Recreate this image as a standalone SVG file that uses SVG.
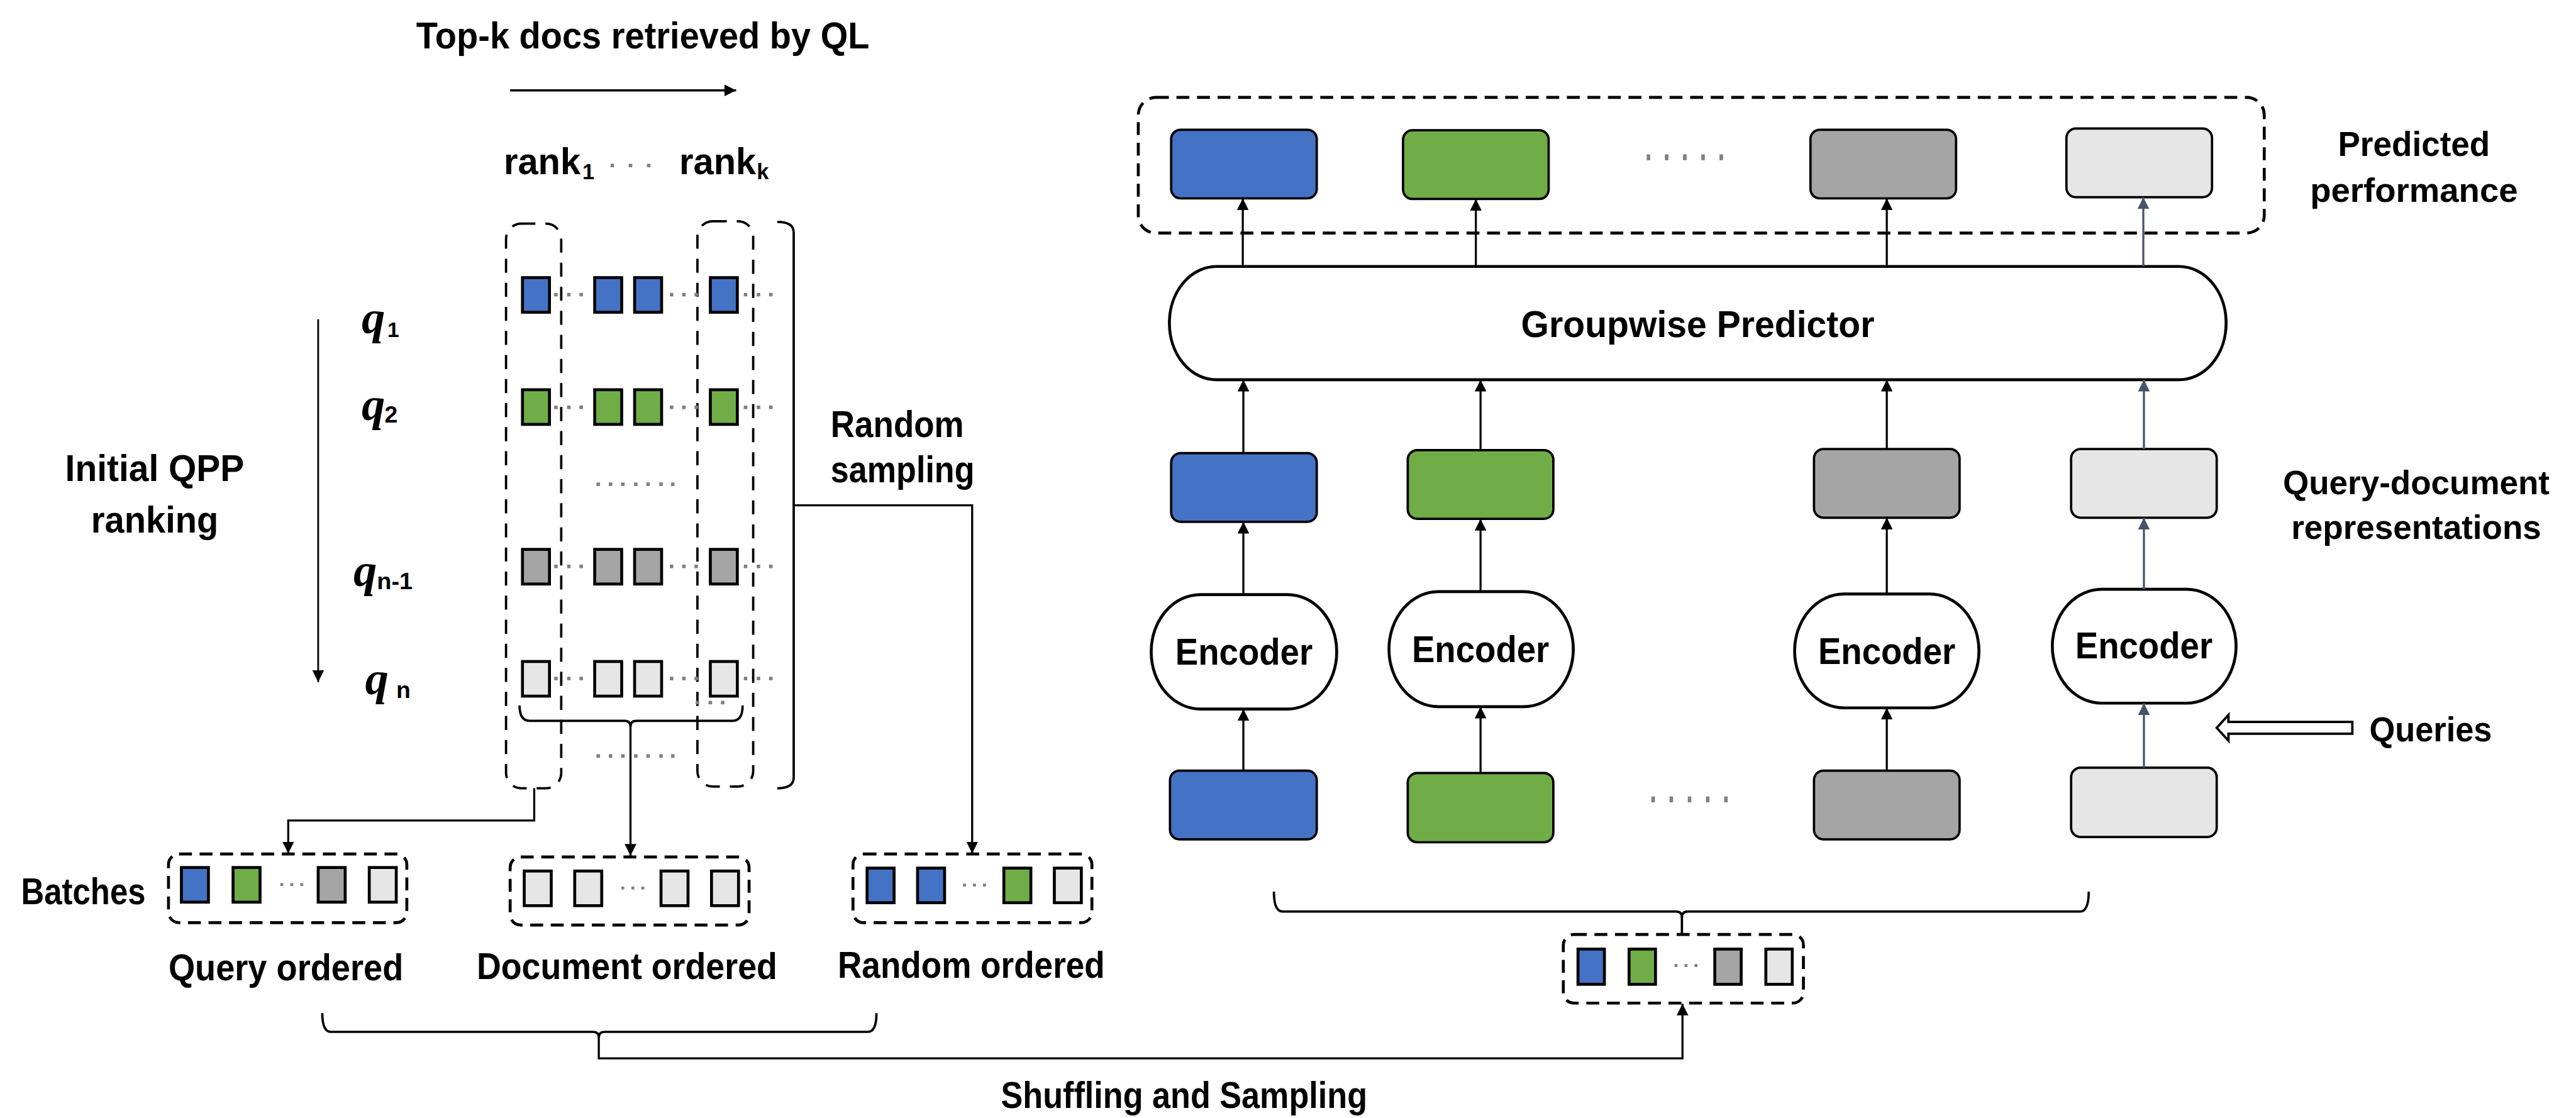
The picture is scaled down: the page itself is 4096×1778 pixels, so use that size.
<svg xmlns="http://www.w3.org/2000/svg" xmlns:xlink="http://www.w3.org/1999/xlink" width="4096" height="1778" viewBox="0 0 4096 1778">
<style>
.t{font-family:"Liberation Sans",Arial,sans-serif;font-weight:bold;font-size:64px;fill:#000}
.q{font-family:"Liberation Serif","Times New Roman",serif;font-style:italic;font-weight:bold;font-size:80px;fill:#000}
.sub{font-family:"Liberation Sans",Arial,sans-serif;font-weight:bold;font-size:40px;fill:#000}
.blue{fill:#4472C4}.green{fill:#70AD47}.gray{fill:#A5A5A5}.light{fill:#E7E6E6}
.sq{stroke:#000;stroke-width:5}
.box{stroke:#000;stroke-width:4}
.shape{fill:#fff;stroke:#000;stroke-width:5}
.dbox{fill:none;stroke:#000;stroke-width:5;stroke-dasharray:22 13}
.dcol{fill:none;stroke:#000;stroke-width:4;stroke-dasharray:24 17}
.ln{fill:none;stroke:#000;stroke-width:4}
.ar{fill:none;stroke:#000;stroke-width:3.5;marker-end:url(#ah)}
.ars{fill:none;stroke:#44546A;stroke-width:3.5;marker-end:url(#ahs)}
.dot{fill:#808080}
</style>
<defs>
<marker id="ah" viewBox="0 0 20 20" refX="20" refY="10" markerWidth="20" markerHeight="20" markerUnits="userSpaceOnUse" orient="auto"><path d="M0,0 L20,10 L0,20 z" fill="#000"/></marker>
<marker id="ahs" viewBox="0 0 20 20" refX="20" refY="10" markerWidth="20" markerHeight="20" markerUnits="userSpaceOnUse" orient="auto"><path d="M0,0 L20,10 L0,20 z" fill="#44546A"/></marker>
<g id="rowdots">
<rect class="dot" x="944" y="-3" width="6" height="6"/><rect class="dot" x="966" y="-3" width="6" height="6"/><rect class="dot" x="987" y="-3" width="6" height="6"/>
<rect class="dot" x="1141" y="-3" width="6" height="6"/><rect class="dot" x="1162" y="-3" width="6" height="6"/><rect class="dot" x="1183" y="-3" width="6" height="6"/>
<rect class="dot" x="1267" y="-3" width="6" height="6"/><rect class="dot" x="1289" y="-3" width="6" height="6"/><rect class="dot" x="1310" y="-3" width="6" height="6"/>
</g>
<g id="vdots">
<rect class="dot" x="1016" y="-3" width="6" height="6"/><rect class="dot" x="1037" y="-3" width="6" height="6"/><rect class="dot" x="1058" y="-3" width="6" height="6"/><rect class="dot" x="1080" y="-3" width="6" height="6"/><rect class="dot" x="1101" y="-3" width="6" height="6"/><rect class="dot" x="1123" y="-3" width="6" height="6"/><rect class="dot" x="1143" y="-3" width="6" height="6"/>
</g>
<g id="bigdots">
<rect class="dot" x="0" y="-5" width="6" height="10"/><rect class="dot" x="31" y="-5" width="6" height="10"/><rect class="dot" x="62" y="-5" width="6" height="10"/><rect class="dot" x="93" y="-5" width="6" height="10"/><rect class="dot" x="124" y="-5" width="6" height="10"/>
</g>
<g id="sdots">
<rect class="dot" x="-2.5" y="-2.5" width="5" height="5"/><rect class="dot" x="14.5" y="-2.5" width="5" height="5"/><rect class="dot" x="31.5" y="-2.5" width="5" height="5"/>
</g>
</defs>
<rect x="0" y="0" width="4096" height="1778" fill="#fff"/>
<g transform="scale(0.93345)">

<g id="title">
<text class="t" x="709" y="83" textLength="772" lengthAdjust="spacingAndGlyphs">Top-k docs retrieved by QL</text>
</g>
<g id="rank-labels">
<text class="t" x="858" y="297" textLength="131" lengthAdjust="spacingAndGlyphs">rank</text>
<text class="sub" x="992" y="305" style="font-size:37px">1</text>
<rect class="dot" x="1040" y="279" width="6" height="6"/><rect class="dot" x="1071" y="279" width="6" height="6"/><rect class="dot" x="1102" y="279" width="6" height="6"/>
<text class="t" x="1157" y="297" textLength="131" lengthAdjust="spacingAndGlyphs">rank</text>
<text class="sub" x="1289" y="305" style="font-size:37px">k</text>
</g>
<g id="query-labels">
<text class="t" x="111" y="820" textLength="305" lengthAdjust="spacingAndGlyphs">Initial QPP</text>
<text class="t" x="155" y="907" textLength="217" lengthAdjust="spacingAndGlyphs">ranking</text>
<text class="q" x="616" y="568">q</text><text class="sub" x="660" y="574" style="font-size:36px">1</text>
<text class="q" x="616" y="716">q</text><text class="sub" x="655" y="720">2</text>
<text class="q" x="602" y="998">q</text><text class="sub" x="642" y="1004" textLength="61" lengthAdjust="spacingAndGlyphs">n-1</text>
<text class="q" x="622" y="1183">q</text><text class="sub" x="675" y="1189">n</text>
</g>

<g id="matrix">
<rect id="col-first" class="dcol" x="862" y="381" width="94" height="962" rx="26"/>
<rect id="col-last" class="dcol" x="1188" y="377" width="95" height="963" rx="26"/>
<g id="row-q1">
<rect class="blue sq" x="890" y="473" width="46" height="59"/><rect class="blue sq" x="1013" y="473" width="46" height="59"/><rect class="blue sq" x="1081" y="473" width="46" height="59"/><rect class="blue sq" x="1210" y="473" width="46" height="59"/>
<use xlink:href="#rowdots" y="502"/>
</g>
<g id="row-q2">
<rect class="green sq" x="890" y="664" width="46" height="59"/><rect class="green sq" x="1013" y="664" width="46" height="59"/><rect class="green sq" x="1081" y="664" width="46" height="59"/><rect class="green sq" x="1210" y="664" width="46" height="59"/>
<use xlink:href="#rowdots" y="694"/>
</g>
<use xlink:href="#vdots" y="825"/>
<g id="row-qn1">
<rect class="gray sq" x="890" y="936" width="46" height="59"/><rect class="gray sq" x="1013" y="936" width="46" height="59"/><rect class="gray sq" x="1081" y="936" width="46" height="59"/><rect class="gray sq" x="1210" y="936" width="46" height="59"/>
<use xlink:href="#rowdots" y="965"/>
</g>
<g id="row-qn">
<rect class="light sq" x="890" y="1127" width="46" height="59"/><rect class="light sq" x="1013" y="1127" width="46" height="59"/><rect class="light sq" x="1081" y="1127" width="46" height="59"/><rect class="light sq" x="1210" y="1127" width="46" height="59"/>
<use xlink:href="#rowdots" y="1156"/>
<rect class="dot" x="1185" y="1194" width="6" height="6"/><rect class="dot" x="1207" y="1194" width="6" height="6"/><rect class="dot" x="1228" y="1194" width="6" height="6"/>
</g>
<use xlink:href="#vdots" y="1288"/>
</g>

<g id="random-sampling-label">
<text class="t" x="1415" y="745" textLength="227" lengthAdjust="spacingAndGlyphs">Random</text>
<text class="t" x="1415" y="822" textLength="245" lengthAdjust="spacingAndGlyphs">sampling</text>
</g>

<g id="batch-query">
<text class="t" x="36" y="1540" textLength="212" lengthAdjust="spacingAndGlyphs">Batches</text>
<rect class="dbox" x="287" y="1455" width="406" height="117" rx="18"/>
<rect class="blue sq" x="309" y="1478" width="46" height="59"/><rect class="green sq" x="397" y="1478" width="46" height="59"/><rect class="gray sq" x="542" y="1478" width="46" height="59"/><rect class="light sq" x="629" y="1478" width="46" height="59"/>
<use xlink:href="#sdots" x="480" y="1507"/>
<text class="t" x="287" y="1670" textLength="400" lengthAdjust="spacingAndGlyphs">Query ordered</text>
</g>
<g id="batch-document">
<rect class="dbox" x="869" y="1460" width="407" height="116" rx="18"/>
<rect class="light sq" x="893" y="1484" width="46" height="59"/><rect class="light sq" x="979" y="1484" width="46" height="59"/><rect class="light sq" x="1126" y="1484" width="46" height="59"/><rect class="light sq" x="1212" y="1484" width="46" height="59"/>
<use xlink:href="#sdots" x="1061" y="1513"/>
<text class="t" x="812" y="1668" textLength="512" lengthAdjust="spacingAndGlyphs">Document ordered</text>
</g>
<g id="batch-random">
<rect class="dbox" x="1453" y="1455" width="407" height="117" rx="18"/>
<rect class="blue sq" x="1477" y="1479" width="46" height="59"/><rect class="blue sq" x="1563" y="1479" width="46" height="59"/><rect class="green sq" x="1710" y="1479" width="46" height="59"/><rect class="light sq" x="1796" y="1479" width="46" height="59"/>
<use xlink:href="#sdots" x="1643" y="1508"/>
<text class="t" x="1427" y="1666" textLength="455" lengthAdjust="spacingAndGlyphs">Random ordered</text>
</g>
<g id="batch-mixed">
<rect class="dbox" x="2663" y="1592" width="409" height="117" rx="18"/>
<rect class="blue sq" x="2688" y="1617" width="45" height="60"/><rect class="green sq" x="2775" y="1617" width="45" height="60"/><rect class="gray sq" x="2921" y="1617" width="45" height="60"/><rect class="light sq" x="3008" y="1617" width="45" height="60"/>
<use xlink:href="#sdots" x="2855" y="1645"/>
</g>
<g id="shuffle-label">
<text class="t" x="1705" y="1888" textLength="624" lengthAdjust="spacingAndGlyphs">Shuffling and Sampling</text>
</g>

<g id="predicted">
<rect class="dbox" x="1939" y="166" width="1918" height="231" rx="30"/>
<rect class="blue box" x="1995" y="221" width="248" height="117" rx="16"/>
<rect class="green box" x="2390" y="222" width="248" height="117" rx="16"/>
<use xlink:href="#bigdots" x="2805" y="268"/>
<rect class="gray box" x="3084" y="221" width="248" height="117" rx="16"/>
<rect class="light box" x="3520" y="219" width="248" height="117" rx="16"/>
<text class="t" x="4112" y="266" text-anchor="middle" style="font-size:60px" textLength="259" lengthAdjust="spacingAndGlyphs">Predicted</text>
<text class="t" x="4112" y="344" text-anchor="middle" style="font-size:58px" textLength="354" lengthAdjust="spacingAndGlyphs">performance</text>
</g>
<g id="groupwise-predictor">
<rect class="shape" x="1992" y="454" width="1800" height="193" rx="80" ry="96"/>
<text class="t" x="2591" y="574" textLength="602" lengthAdjust="spacingAndGlyphs">Groupwise Predictor</text>
</g>
<g id="representations">
<rect class="blue box" x="1995" y="772" width="248" height="117" rx="16"/>
<rect class="green box" x="2398" y="767" width="248" height="117" rx="16"/>
<rect class="gray box" x="3090" y="765" width="248" height="117" rx="16"/>
<rect class="light box" x="3528" y="765" width="248" height="117" rx="16"/>
</g>
<g id="encoders">
<rect class="shape" x="1961" y="1013" width="316" height="195" rx="84" ry="97"/>
<text class="t" x="2002" y="1132" textLength="234" lengthAdjust="spacingAndGlyphs">Encoder</text>
<rect class="shape" x="2366" y="1008" width="314" height="196" rx="84" ry="98"/>
<text class="t" x="2405" y="1128" textLength="234" lengthAdjust="spacingAndGlyphs">Encoder</text>
<rect class="shape" x="3057" y="1012" width="314" height="194" rx="84" ry="97"/>
<text class="t" x="3097" y="1131" textLength="234" lengthAdjust="spacingAndGlyphs">Encoder</text>
<rect class="shape" x="3496" y="1004" width="313" height="194" rx="84" ry="97"/>
<text class="t" x="3535" y="1122" textLength="234" lengthAdjust="spacingAndGlyphs">Encoder</text>
</g>
<g id="inputs">
<rect class="blue box" x="1993" y="1313" width="250" height="117" rx="16"/>
<rect class="green box" x="2398" y="1317" width="248" height="118" rx="16"/>
<use xlink:href="#bigdots" x="2813" y="1362"/>
<rect class="gray box" x="3090" y="1313" width="248" height="117" rx="16"/>
<rect class="light box" x="3528" y="1308" width="248" height="118" rx="16"/>
</g>
<g id="queries">
<polygon points="3776,1240 3796,1218 3796,1230 4007,1230 4007,1250 3796,1250 3796,1262" fill="#fff" stroke="#000" stroke-width="4"/>
<text class="t" x="4036" y="1263" style="font-size:60px" textLength="209" lengthAdjust="spacingAndGlyphs">Queries</text>
</g>

<g id="connectors">
<line class="ar" x1="869" y1="154" x2="1254" y2="154"/>
<line class="ar" x1="542" y1="544" x2="542" y2="1162" style="stroke-width:3"/>
<path class="ln" d="M1324,378 Q1352,378 1352,396 L1352,1325 Q1352,1343 1324,1343"/>
<path class="ar" d="M1352,861 L1656,861 L1656,1454"/>
<path class="ln" d="M885,1202 Q885,1228 902,1228 L1064,1228 Q1074,1228 1074,1238 Q1074,1228 1084,1228 L1248,1228 Q1265,1228 1265,1202"/>
<path class="ar" d="M1074,1236 L1074,1458"/>
<path class="ar" d="M910,1343 L910,1398 L491,1398 L491,1454"/>
<path class="ln" d="M2170,1519 Q2170,1553 2185,1553 L2855,1553 Q2865,1553 2865,1563 Q2865,1553 2875,1553 L3543,1553 Q3558,1553 3558,1519"/>
<line class="ln" x1="2865" y1="1561" x2="2865" y2="1592"/>
<path class="ln" d="M549,1726 Q549,1758 564,1758 L1010,1758 Q1020,1758 1020,1768 Q1020,1758 1030,1758 L1478,1758 Q1493,1758 1493,1726"/>
<path class="ar" d="M1020,1766 L1020,1803 L2866,1803 L2866,1710"/>
<line class="ar" x1="2118" y1="1313" x2="2118" y2="1208"/>
<line class="ar" x1="2522" y1="1317" x2="2522" y2="1204"/>
<line class="ar" x1="3214" y1="1313" x2="3214" y2="1206"/>
<line class="ars" x1="3652" y1="1308" x2="3652" y2="1198"/>
<line class="ar" x1="2118" y1="1013" x2="2118" y2="889"/>
<line class="ar" x1="2522" y1="1008" x2="2522" y2="884"/>
<line class="ar" x1="3214" y1="1012" x2="3214" y2="882"/>
<line class="ars" x1="3652" y1="1004" x2="3652" y2="882"/>
<line class="ar" x1="2118" y1="772" x2="2118" y2="647"/>
<line class="ar" x1="2522" y1="767" x2="2522" y2="647"/>
<line class="ar" x1="3214" y1="765" x2="3214" y2="647"/>
<line class="ars" x1="3652" y1="765" x2="3652" y2="647"/>
<line class="ar" x1="2117" y1="454" x2="2117" y2="338"/>
<line class="ar" x1="2514" y1="454" x2="2514" y2="339"/>
<line class="ar" x1="3214" y1="454" x2="3214" y2="338"/>
<line class="ars" x1="3651" y1="454" x2="3651" y2="336"/>
</g>
</g>
<g id="representations-label">
<text class="t" x="3842" y="786" text-anchor="middle" style="font-size:53px">Query-document</text>
<text class="t" x="3842" y="857" text-anchor="middle" style="font-size:53px">representations</text>
</g>
</svg>
